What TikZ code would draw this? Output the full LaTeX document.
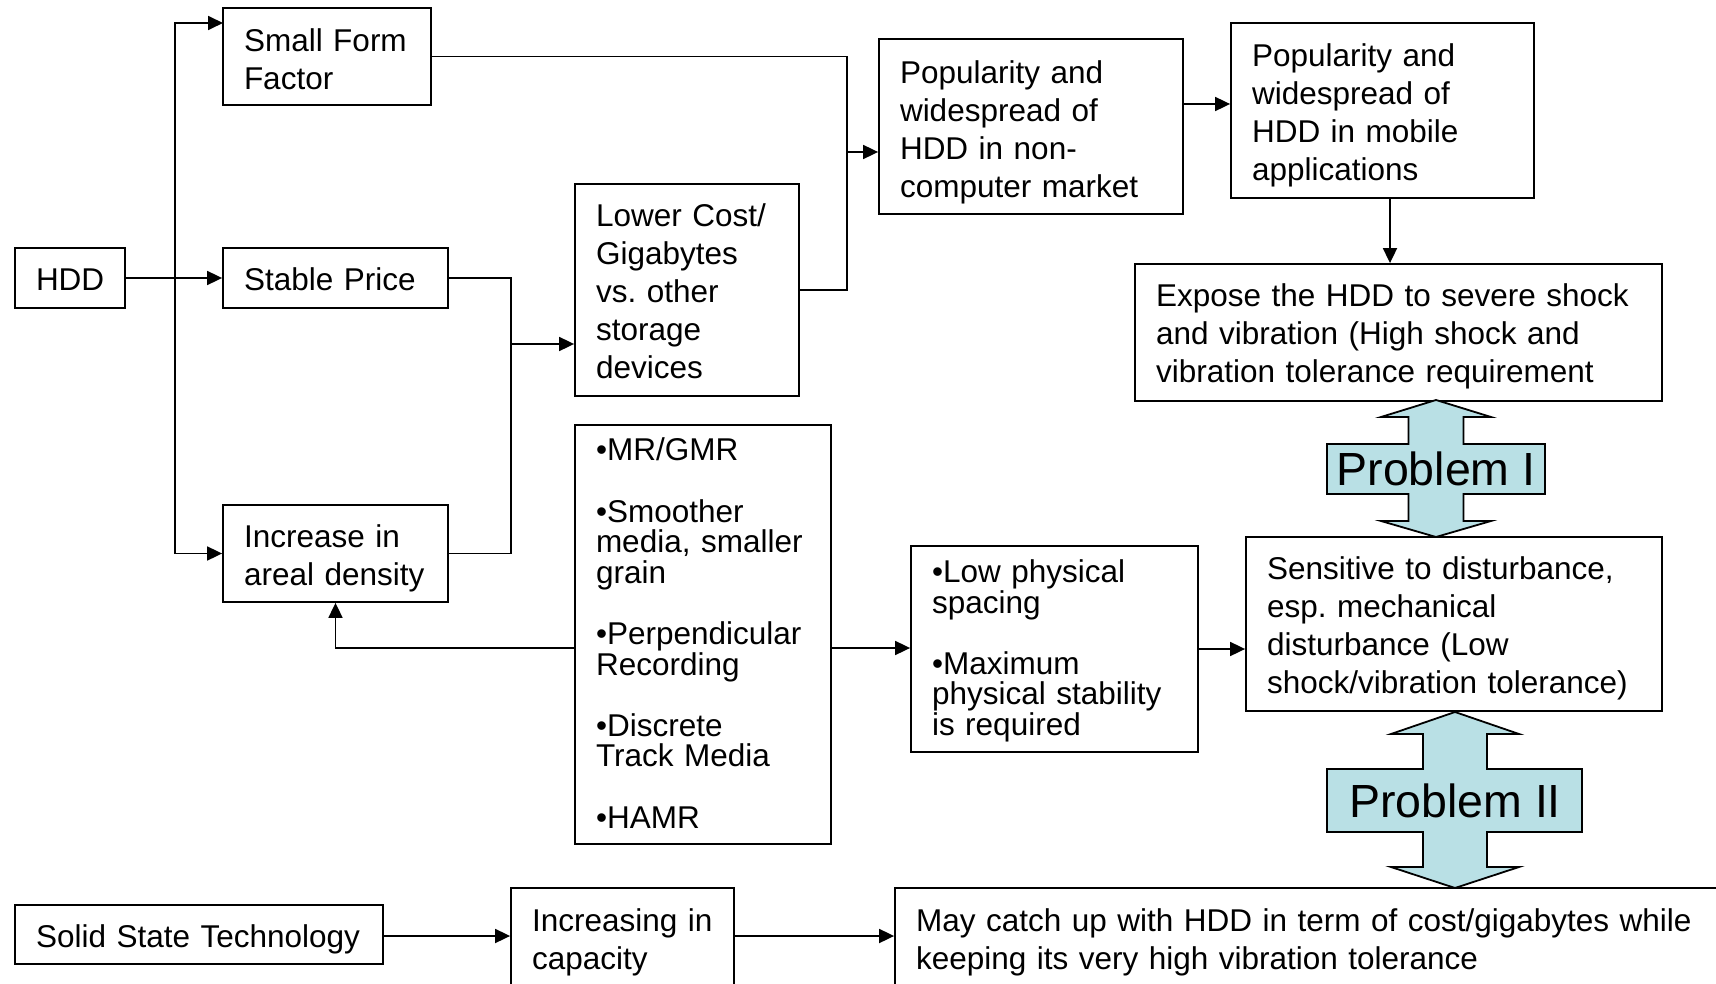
\documentclass[tikz,border=0pt]{standalone}
\usepackage{fontspec}
\setmainfont{Liberation Sans}
\usetikzlibrary{arrows.meta,calc}
\definecolor{probfill}{RGB}{185,224,229}
\frenchspacing
\hyphenpenalty=10000
\exhyphenpenalty=10000
\begin{document}
\begin{tikzpicture}[x=1pt,y=-1pt,
  box/.style={draw, line width=1.8pt, inner xsep=21pt, inner ysep=0pt,
    align=left, text height=30.5pt, font=\fontsize{31.5}{38}\selectfont},
  tight/.style={text height=28pt, font=\fontsize{31.5}{30.6}\selectfont},
  dp/.style={text depth=#1},
  link/.style={line width=1.8pt},
  arr/.style={line width=1.8pt, -{Triangle[length=15pt,width=14pt]}},
  prob/.style={draw, line width=1.8pt, fill=probfill, line join=miter},
  problabel/.style={inner sep=0pt, font=\fontsize{46.5}{50}\selectfont},
]
\useasboundingbox (0,0) rectangle (1716,984);
\fill[white] (0,0) rectangle (1716,984);
\clip (0,0) rectangle (1716,984);

% boxes (text depth = lines below the first one plus a fixed descent)
\node[box, dp=5.5pt, text width=68pt, minimum height=60pt] (hdd) at (70,278) {HDD};
\node[box, text height=34.5pt, dp=43.5pt, text width=166pt, minimum height=97pt] (sff) at (327,56.5) {Small Form\\Factor};
\node[box, dp=5.5pt, text width=183pt, minimum height=60pt] (stable) at (335.5,278) {Stable Price};
\node[box, dp=43.5pt, text width=183pt, minimum height=97pt] (incr) at (335.5,553.5) {Increase in\\areal density};
\node[box, dp=157.5pt, text width=182pt, minimum height=212pt] (lower) at (687,290)
  {Lower Cost/\\Gigabytes\\vs. other\\storage\\devices};
\node[box, text height=34.5pt, dp=119.5pt, text width=262pt, minimum height=175pt] (pop1) at (1031,126.5)
  {Popularity and\\widespread of\\HDD in non-\\computer market};
\node[box, text height=32.5pt, dp=119.5pt, text width=261pt, minimum height=175pt] (pop2) at (1382.5,110.5)
  {Popularity and\\widespread of\\HDD in mobile\\applications};
\node[box, dp=81.5pt, text width=485pt, minimum height=137pt] (expose) at (1398.5,332.5)
  {Expose the HDD to severe shock\\and vibration (High shock and\\vibration tolerance requirement};
\node[box, dp=119.5pt, text width=374pt, minimum height=174pt] (sens) at (1454,624)
  {Sensitive to disturbance,\\esp. mechanical\\disturbance (Low\\shock/vibration tolerance)};
\node[box, tight, dp=375.2pt, text width=214pt, minimum height=419pt] (tech) at (703,634.5)
  {•MR/GMR\\[30.6pt]•Smoother\\media, smaller\\grain\\[30.6pt]•Perpendicular\\Recording\\[30.6pt]•Discrete\\Track Media\\[30.6pt]•HAMR};
\node[box, tight, dp=161pt, text width=245pt, minimum height=206pt] (low) at (1054.5,649)
  {•Low physical\\spacing\\[30.6pt]•Maximum\\physical stability\\is required};
\node[box, dp=5.5pt, text width=326pt, minimum height=59pt] (sst) at (199,934.5) {Solid State Technology};
\node[box, text height=26.5pt, dp=43.5pt, text width=181pt, minimum height=103pt] (incap) at (622.5,939.5) {Increasing in\\capacity};
\node[box, text height=26.5pt, dp=43.5pt, text width=793pt, minimum height=103pt] (catch) at (1312.5,939.5)
  {May catch up with HDD in term of cost/gigabytes while\\keeping its very high vibration tolerance};

% junction points
\coordinate (jn) at (175,278);
\coordinate (sffin) at (223,23);
\coordinate (mj) at (511,344);
\coordinate (tj) at (847,152);
\coordinate (p1o) at (1183,104);
\coordinate (p2o) at (1390,198);
\coordinate (tl) at (575,648);
\coordinate (tr) at (831,648);
\coordinate (ss) at (383,936);
\coordinate (ic) at (734,936);

% connectors
\draw[arr] (hdd.east) -- (stable.west);
\draw[arr] (jn) |- (sffin);
\draw[arr] (jn) |- (incr.west);
\draw[link] (stable.east) -| (mj |- incr.east) -- (incr.east);
\draw[arr] (mj) -- (mj -| lower.west);
\draw[link] (sff.east) -| (tj |- lower.east) -- (lower.east);
\draw[arr] (tj) -- (tj -| pop1.west);
\draw[arr] (p1o) -- (p1o -| pop2.west);
\draw[arr] (p2o) -- (p2o |- expose.north);
\draw[arr] (tl) -| (incr.south);
\draw[arr] (tr) -- (tr -| low.west);
\draw[arr] (low.east) -- (low.east -| sens.west);
\draw[arr] (ss) -- (ss -| incap.west);
\draw[arr] (ic) -- (ic -| catch.west);

% Problem I double arrow
\draw[prob] (1436,400) -- (1491,417) -- (1463.5,417) -- (1463.5,444) -- (1545,444)
  -- (1545,494) -- (1463.5,494) -- (1463.5,521) -- (1491,521) -- (1436,537)
  -- (1381,521) -- (1408.5,521) -- (1408.5,494) -- (1327,494) -- (1327,444)
  -- (1408.5,444) -- (1408.5,417) -- (1381,417) -- cycle;
\node[problabel] (p1) at (1436,469) {Problem I};

% Problem II double arrow
\draw[prob] (1455,712) -- (1519,734) -- (1487,734) -- (1487,769) -- (1582,769)
  -- (1582,832) -- (1487,832) -- (1487,867) -- (1519,867) -- (1455,888)
  -- (1391,867) -- (1423,867) -- (1423,832) -- (1327,832) -- (1327,769)
  -- (1423,769) -- (1423,734) -- (1391,734) -- cycle;
\node[problabel] (p2) at (1455,800.5) {Problem II};
\end{tikzpicture}
\end{document}
